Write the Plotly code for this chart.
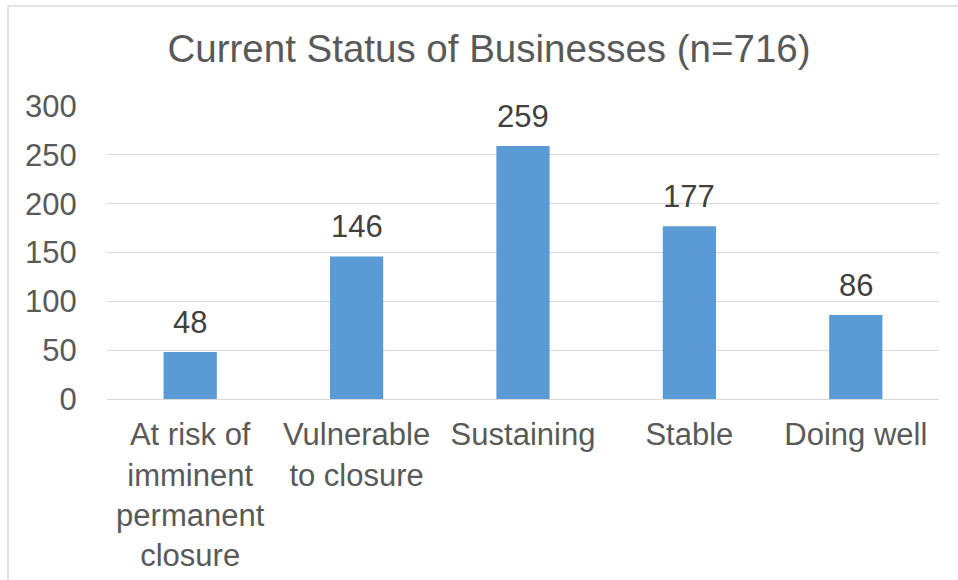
import plotly.graph_objects as go

categories = ["At risk of<br>imminent<br>permanent<br>closure", "Vulnerable<br>to closure",
              "Sustaining", "Stable", "Doing well"]
counts = [48, 146, 259, 177, 86]
y_ticks = [0, 50, 100, 150, 200, 250, 300]

font_family = "Arial, Liberation Sans, sans-serif"

fig = go.Figure()
fig.add_trace(go.Bar(
    x=categories,
    y=counts,
    marker=dict(color="#5B9BD5", line_width=0),
    hoverinfo="x+y",
))

# value labels above the bars
for cat, val in zip(categories, counts):
    fig.add_annotation(x=cat, y=val, text=str(val), showarrow=False,
                       yanchor="bottom", yshift=10,
                       font=dict(size=31, color="#404040", family=font_family))

fig.update_layout(
    width=958, height=580,
    margin=dict(l=107, r=19, t=106, b=181),
    paper_bgcolor="white",
    plot_bgcolor="white",
    bargap=0.68,
    showlegend=False,
    font=dict(family=font_family, color="#595959"),
    title=dict(text="Current Status of Businesses (n=716)",
               font=dict(size=38.5, color="#595959", family=font_family),
               x=489 / 958, xanchor="center", xref="container",
               y=1 - 62 / 580, yanchor="bottom", yref="container"),
    xaxis=dict(
        automargin=False,
        showgrid=False, showline=False, zeroline=False,
        tickfont=dict(size=31, color="#595959"),
        ticks="outside", ticklen=0, ticklabelstandoff=8,
        tickangle=0,
    ),
    yaxis=dict(
        automargin=False,
        range=[0, 300], tickvals=y_ticks,
        showgrid=True, gridcolor="#D9D9D9", gridwidth=1.3,
        zeroline=True, zerolinecolor="#D9D9D9", zerolinewidth=1.3,
        showline=False,
        tickfont=dict(size=31, color="#595959"),
        ticks="outside", ticklen=0, ticklabelstandoff=23,
    ),
    shapes=[
        dict(type="rect", xref="paper", yref="paper",
             x0=-99 / 832, x1=(958 + 10 - 107) / 832,
             y0=-200 / 293, y1=(399 - 6) / 293,
             line=dict(color="#D9D9D9", width=1.5), layer="below"),
    ],
)

fig.write_html("out.html", config={"displayModeBar": False},
               post_script="document.body.style.margin='0px';")
